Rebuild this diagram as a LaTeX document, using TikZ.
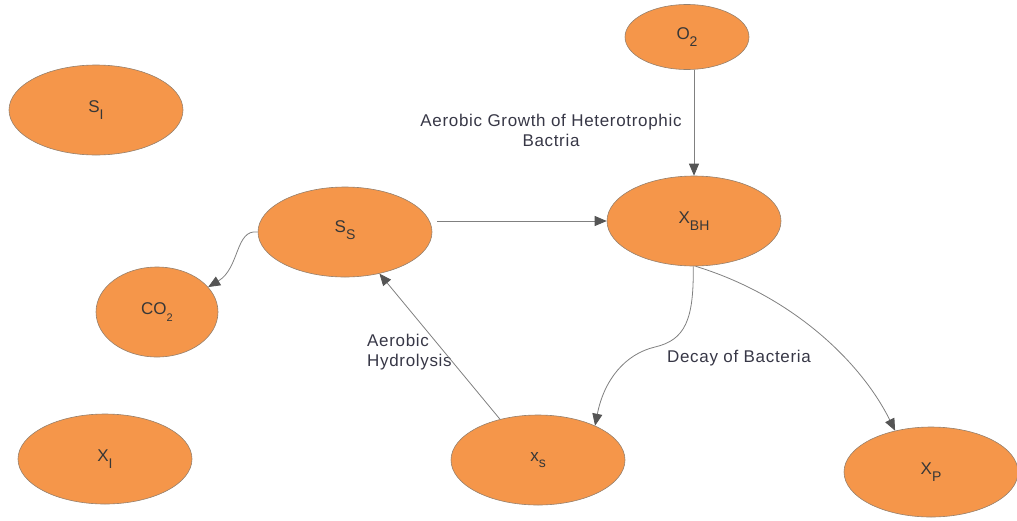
\documentclass[tikz,border=0pt]{standalone}
\usepackage{fontspec}
\setmainfont{Liberation Sans}
\newfontfamily\lblfont[LetterSpace=4]{Liberation Sans}
\usetikzlibrary{shapes.geometric,arrows.meta}
\definecolor{nodefill}{RGB}{245,150,74}
\definecolor{nodeedge}{RGB}{150,128,108}
\definecolor{arrowgray}{RGB}{128,128,128}
\definecolor{tipgray}{RGB}{85,85,85}
\definecolor{txt}{RGB}{55,55,55}
\definecolor{labeltxt}{RGB}{55,55,70}
\newcommand\lowsub[1]{\raisebox{-6.5pt}{\fontsize{14}{14}\selectfont #1}}
\newcommand\smallsub[1]{\raisebox{-6.5pt}{\fontsize{11}{11}\selectfont #1}}
\begin{document}
\begin{tikzpicture}[x=1pt,y=-1pt,
  blob/.style={ellipse, fill=nodefill, draw=nodeedge, line width=0.6pt,
    minimum width=174pt, minimum height=90pt, inner sep=0pt,
    font=\fontsize{17}{17}\selectfont, text=txt},
  conn/.style={draw=arrowgray, line width=0.8pt,
    -{Triangle[length=12pt,width=10pt,color=tipgray]}},
  lbl/.style={font=\lblfont\fontsize{17}{20}\selectfont, text=labeltxt, inner sep=0pt}]
\useasboundingbox (0,0) rectangle (1017,520);

\node[blob, minimum width=124pt, minimum height=65pt] (o2) at (687,37) {O\lowsub{2}};
\node[blob] (si) at (96,110) {S\lowsub{I}};
\node[blob] (ss) at (345,232) {\raisebox{10pt}{S\lowsub{S}}};
\node[blob] (xbh) at (694,221) {X\lowsub{BH}};
\node[blob, minimum width=122pt] (co2) at (157,312) {CO\smallsub{2}};
\node[blob] (xi) at (105,459) {X\lowsub{I}};
\node[blob] (xs) at (538,460) {x\lowsub{s}};
\node[blob] (xp) at (931,472) {X\lowsub{P}};

\node[lbl, align=center] (lgrowth) at (551,130) {Aerobic Growth of Heterotrophic\\Bactria};
\node[lbl, align=left, anchor=west] (lhydro) at (367,352) {Aerobic\\Hydrolysis};
\node[lbl] (ldecay) at (739,358) {Decay of Bacteria};

\draw[conn] (xbh.north |- o2.south) -- (xbh.north);
\draw[conn] ([xshift=5pt]ss.east |- xbh.west) -- (xbh.west);
\draw[conn] (ss.west) .. controls (235,229) and (240,268) .. (co2.26);
\draw[conn] (xs.133) -- (ss);
\draw[conn] (xbh.-91) .. controls (694,320) and (685,340) .. (655,347)
  .. controls (625,354) and (604,380) .. (xs.31);
\draw[conn] (xbh.-88) .. controls (790,295) and (860,360) .. (xp.131);
\end{tikzpicture}
\end{document}
